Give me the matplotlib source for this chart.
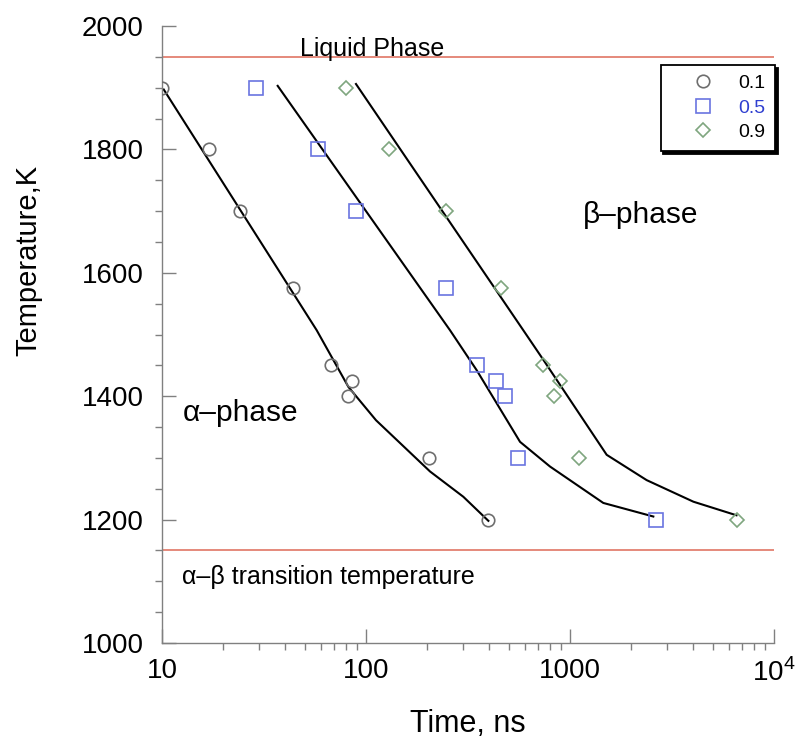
import matplotlib
matplotlib.use("Agg")
import matplotlib.pyplot as plt
from matplotlib.ticker import FixedLocator, FixedFormatter, MultipleLocator, LogLocator, NullFormatter

plt.rcParams["font.family"] = ["Liberation Sans", "DejaVu Sans"]
plt.rcParams["mathtext.fontset"] = "custom"
plt.rcParams["mathtext.rm"] = "Liberation Sans"

# measured points (time in ns, temperature in K)
temps = [1900, 1800, 1700, 1575, 1450, 1425, 1400, 1300, 1200]
time_01 = [10, 17, 24, 44, 67, 85, 82, 204, 398]
time_05 = [29, 58, 89, 248, 349, 433, 480, 559, 2626]
time_09 = [80, 130, 246, 459, 740, 893, 835, 1112, 6607]

# fitted curves
fit_t_01 = [10.2, 57.3, 82, 112, 206, 300, 398]
fit_T_01 = [1897, 1507, 1415, 1361, 1278, 1237, 1198]
fit_t_05 = [36.9, 258, 349, 569, 798, 1456, 2561]
fit_T_05 = [1903, 1507, 1442, 1326, 1286, 1227, 1205]
fit_t_09 = [89.3, 590, 740, 1513, 2375, 4027, 6546]
fit_T_09 = [1906, 1507, 1459, 1305, 1264, 1229, 1207]

liquid_T = 1950
transition_T = 1150

x_ticks = [10, 100, 1000, 10000]
x_labels = ["10", "100", "1000", "10$^4$"]
y_ticks = [1000, 1200, 1400, 1600, 1800, 2000]

axis_grey = "#808080"
red = "#e07565"

fig = plt.figure(figsize=(7.99, 7.51), dpi=100)
ax = fig.add_axes([162 / 799, 1 - 643 / 751, 612 / 799, 617 / 751])

ax.axhline(liquid_T, color=red, lw=1.2, zorder=1)
ax.axhline(transition_T, color=red, lw=1.2, zorder=1)

ax.plot(fit_t_01, fit_T_01, color="black", lw=1.5, zorder=2)
ax.plot(fit_t_05, fit_T_05, color="black", lw=1.5, zorder=2)
ax.plot(fit_t_09, fit_T_09, color="black", lw=1.5, zorder=2)

ax.plot(time_01, temps, ls="none", marker="o", ms=9, mfc="none", mec="#6e6e6e", mew=1.2, label="0.1", zorder=3)
ax.plot(time_05, temps, ls="none", marker="s", ms=10, mfc="none", mec="#6a74e0", mew=1.2, label="0.5", zorder=3)
ax.plot(time_09, temps, ls="none", marker="D", ms=7.5, mfc="none", mec="#7fa67f", mew=1.2, label="0.9", zorder=3)

ax.set_xscale("log")
ax.set_xlim(10, 10000)
ax.set_ylim(1000, 2000)

ax.xaxis.set_major_locator(FixedLocator(x_ticks))
ax.xaxis.set_major_formatter(FixedFormatter(x_labels))
ax.xaxis.set_minor_locator(LogLocator(base=10, subs=range(2, 10)))
ax.xaxis.set_minor_formatter(NullFormatter())
ax.yaxis.set_major_locator(FixedLocator(y_ticks))
ax.yaxis.set_minor_locator(MultipleLocator(50))

for side in ["top", "right"]:
    ax.spines[side].set_visible(False)
for side in ["left", "bottom"]:
    ax.spines[side].set_color(axis_grey)
    ax.spines[side].set_linewidth(1.0)

ax.tick_params(which="major", direction="in", length=10, width=1.0, color=axis_grey, labelsize=20)
ax.tick_params(which="minor", direction="out", length=5, width=1.0, color=axis_grey)
ax.tick_params(axis="x", which="major", pad=11)
ax.tick_params(axis="y", which="major", pad=13)

ax.set_xlabel("Time, ns", fontsize=22, labelpad=16)
ax.set_ylabel("Temperature,K", fontsize=21)
ax.yaxis.set_label_coords(-0.195, 0.62)

ax.text(107, liquid_T + 2, "Liquid Phase", fontsize=18, ha="center", va="baseline")
ax.text(12.5, 1107, "\u03b1\u2013\u03b2 transition temperature", fontsize=18, ha="left", va="center")
ax.text(12.7, 1373, "\u03b1\u2013phase", fontsize=21.5, ha="left", va="center")
ax.text(1158, 1694, "\u03b2\u2013phase", fontsize=21.5, ha="left", va="center")

leg = ax.legend(loc="upper right", bbox_to_anchor=(1.002, 0.937), borderaxespad=0,
                fontsize=14, frameon=True, fancybox=False,
                shadow={"color": "black", "alpha": 1},
                handlelength=3.4, handletextpad=0.1, labelspacing=0.35, borderpad=0.5)
leg.get_frame().set_edgecolor("black")
leg.get_frame().set_linewidth(1.3)
leg.get_texts()[1].set_color("#2f3fd0")

fig.savefig("out.png", dpi=100, facecolor="white")
